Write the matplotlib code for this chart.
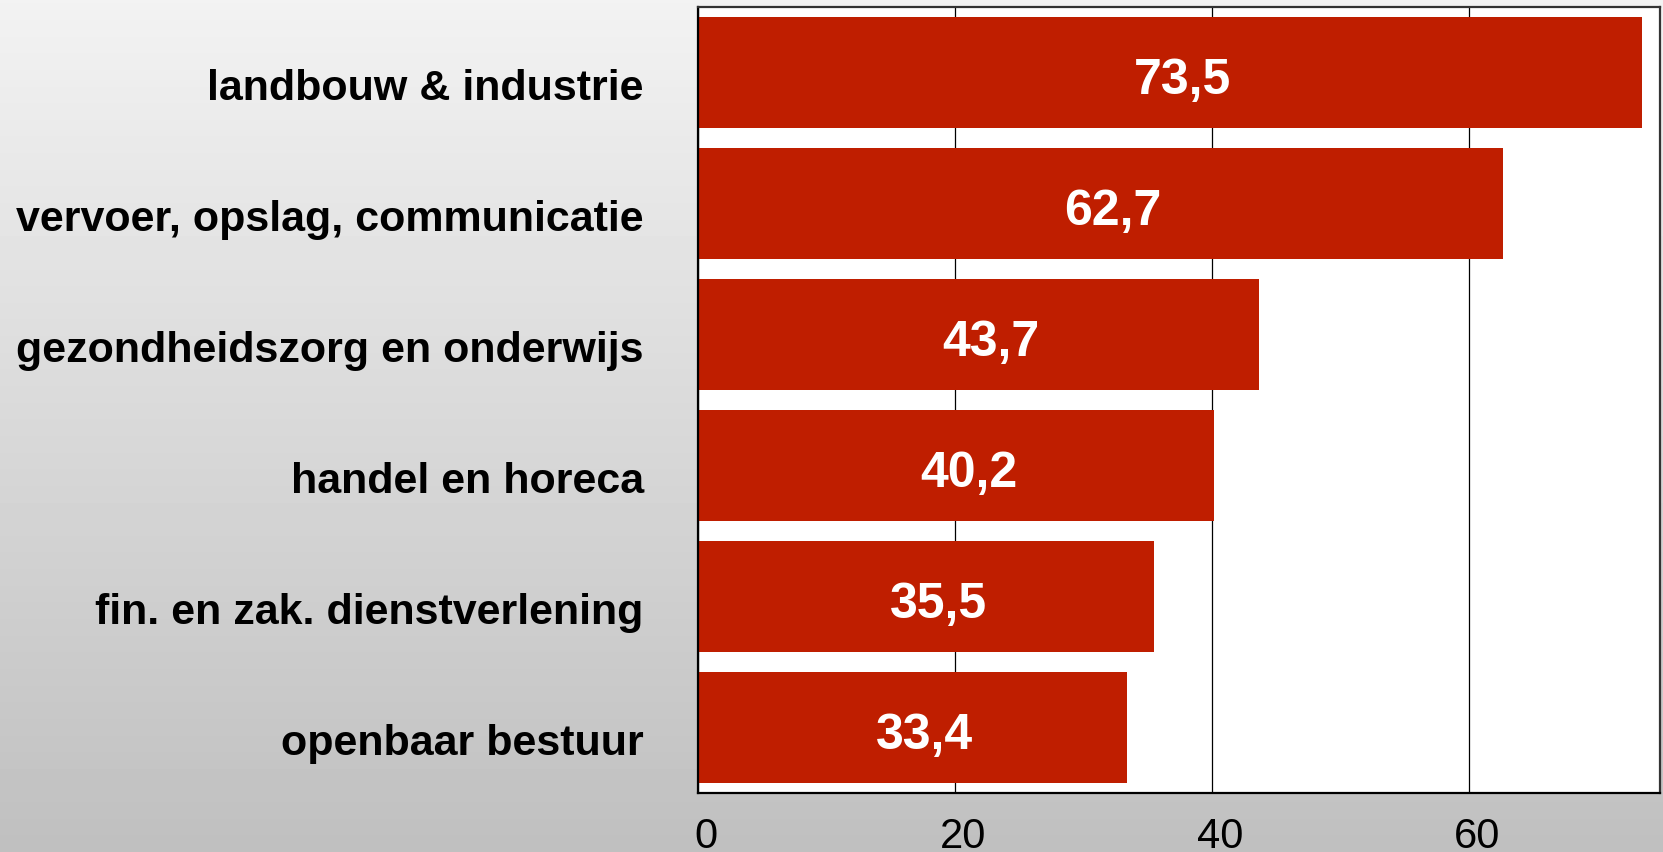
import numpy as np
import matplotlib
matplotlib.use("Agg")
import matplotlib.pyplot as plt
import matplotlib.transforms as mtransforms

plt.rcParams['font.family'] = ['Liberation Sans', 'DejaVu Sans']

# sectors, top to bottom
sectors = [
    "landbouw & industrie",
    "vervoer, opslag, communicatie",
    "gezondheidszorg en onderwijs",
    "handel en horeca",
    "fin. en zak. dienstverlening",
    "openbaar bestuur",
]
values = [73.5, 62.7, 43.7, 40.2, 35.5, 33.4]
value_labels = ["73,5", "62,7", "43,7", "40,2", "35,5", "33,4"]
xticks = [0, 20, 40, 60]

BAR_COLOR = "#BF1E00"

fig = plt.figure(figsize=(16.63, 8.52), dpi=100)

# grey gradient background behind everything
bg = fig.add_axes([0, 0, 1, 1], zorder=0)
grad = np.linspace(0.95, 0.75, 256).reshape(-1, 1)
bg.imshow(grad, aspect="auto", cmap="gray", vmin=0, vmax=1, extent=[0, 1, 0, 1])
bg.set_axis_off()

ax = fig.add_axes([0.4197, 0.0692, 0.5785, 0.9225], zorder=1)
ax.set_facecolor("white")

y = np.arange(len(sectors))
ax.barh(y, values, height=0.85, color=BAR_COLOR, zorder=2)

for yi, v, lab in zip(y, values, value_labels):
    ax.annotate(lab, xy=(v / 2, yi), xytext=(9, -6), textcoords="offset points",
                ha="center", va="center", color="white", fontsize=36,
                fontweight="bold", zorder=3)

ax.set_xlim(0, 74.9)
ax.set_ylim(len(sectors) - 0.5, -0.5)

ax.set_yticks(y)
ax.set_yticklabels(sectors, fontsize=31, fontweight="bold")
ax.tick_params(axis="y", length=0, pad=39)
ydown = mtransforms.ScaledTranslation(0, -12 / 100, fig.dpi_scale_trans)
for lbl in ax.get_yticklabels():
    lbl.set_transform(lbl.get_transform() + ydown)

ax.set_xticks(xticks)
ax.set_xticklabels([str(t) for t in xticks], fontsize=30)
ax.tick_params(axis="x", length=0, pad=17)
offset = mtransforms.ScaledTranslation(8 / 100, 0, fig.dpi_scale_trans)
for lbl in ax.get_xticklabels():
    lbl.set_transform(lbl.get_transform() + offset)

ax.xaxis.grid(True, color="black", linewidth=0.9, zorder=1)
ax.set_axisbelow(True)

for side in ["left", "bottom"]:
    ax.spines[side].set_linewidth(1.6)
    ax.spines[side].set_color("black")
for side in ["top", "right"]:
    ax.spines[side].set_linewidth(1.6)
    ax.spines[side].set_color("#333333")

fig.savefig("out.png", dpi=100)
